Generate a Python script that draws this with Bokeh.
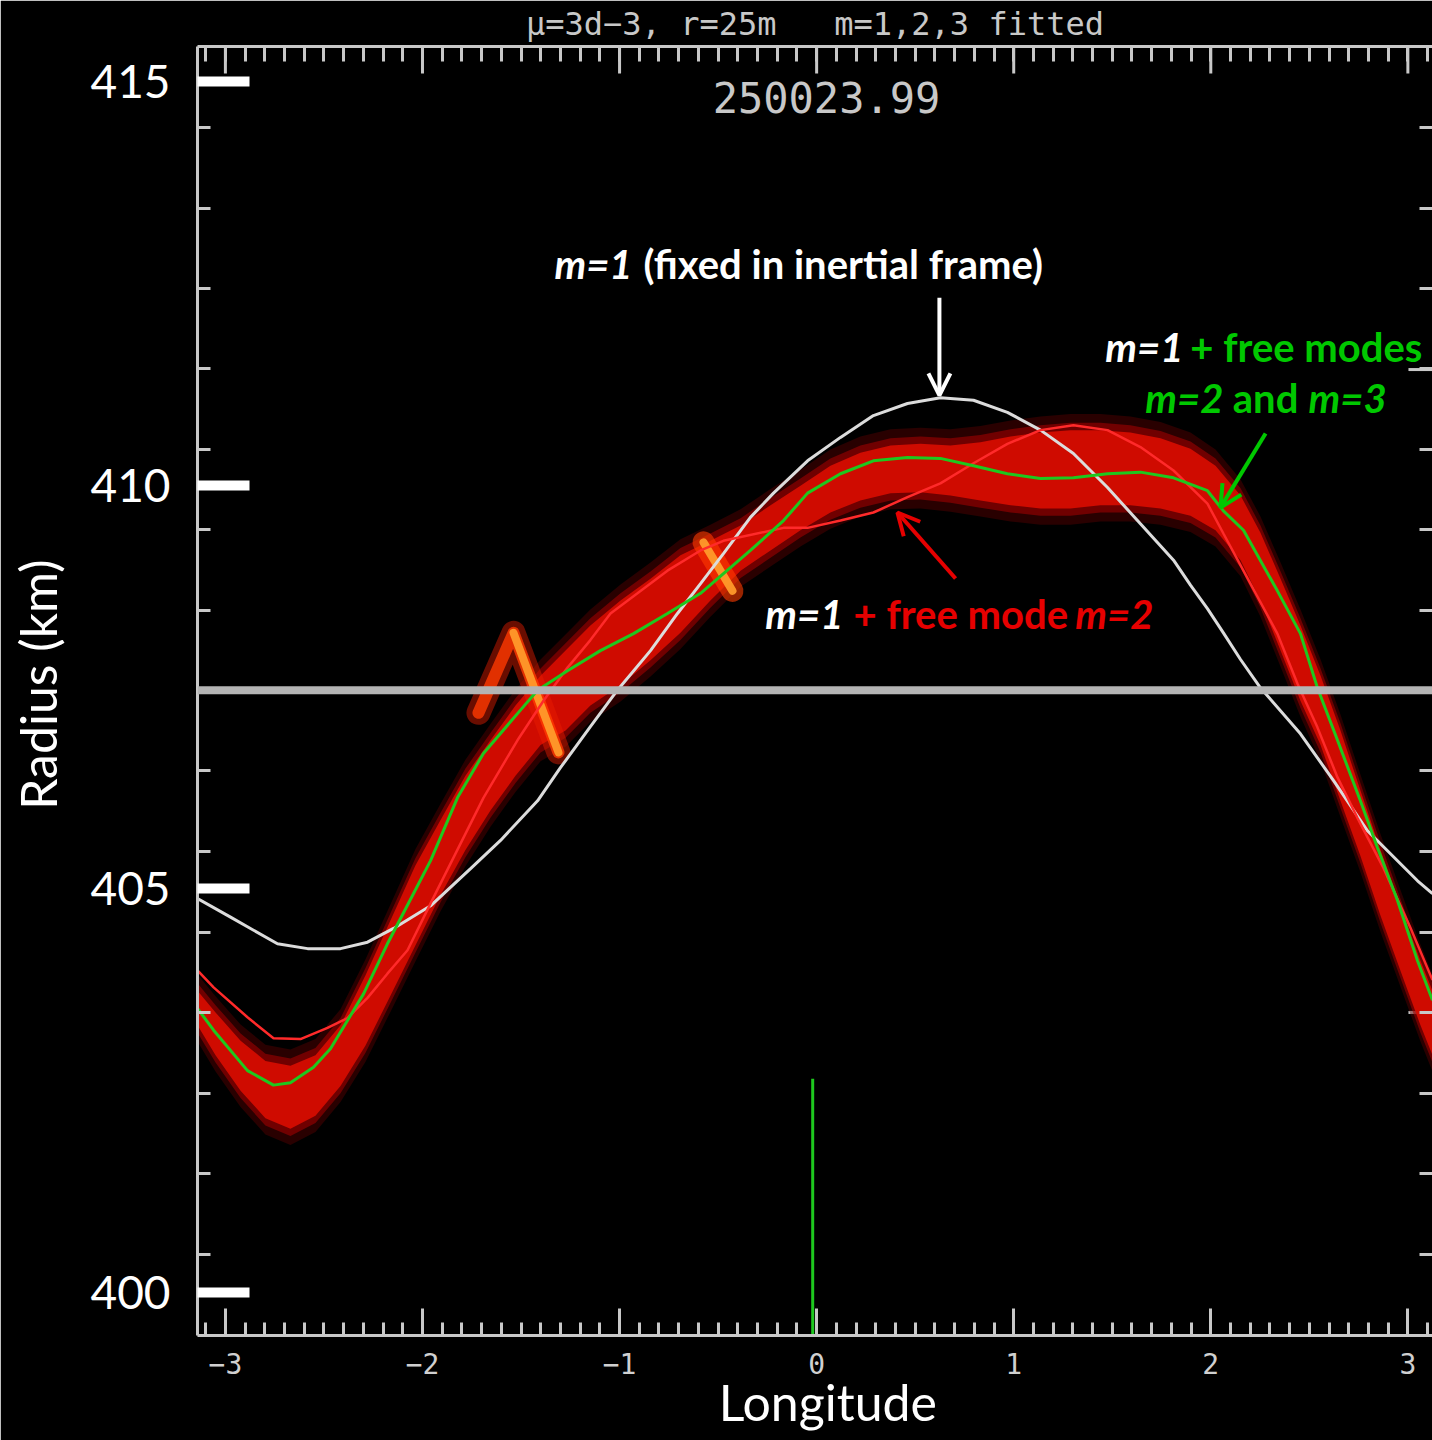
from bokeh.plotting import figure
from bokeh.models import (Range1d, LinearAxis, FixedTicker, SingleIntervalTicker,
                          Span, Label, Arrow, OpenHead)
from bokeh.embed import file_html
from bokeh.resources import INLINE

# ---------------- data ----------------
# m=1 (fixed in inertial frame) : white curve
lon_inertial = [-3.1416, -2.974, -2.736, -2.583, -2.416, -2.279, -2.147, -1.959, -1.756,
                -1.604, -1.416, -1.300, -1.148, -1.011, -0.843, -0.706, -0.589, -0.473,
                -0.336, -0.219, -0.046, 0.121, 0.288, 0.461, 0.628, 0.796, 0.968, 1.136,
                1.303, 1.476, 1.643, 1.811, 1.897, 1.983, 2.064, 2.151, 2.252, 2.455, 2.623,
                2.795, 3.049, 3.125]
r_inertial = [404.88, 404.65, 404.32, 404.26, 404.26, 404.34, 404.51, 404.79, 405.25,
              405.60, 406.09, 406.50, 407.01, 407.46, 407.95, 408.41, 408.78, 409.15,
              409.60, 409.90, 410.30, 410.59, 410.86, 411.01, 411.08, 411.05, 410.90, 410.68,
              410.39, 409.97, 409.52, 409.07, 408.76, 408.47, 408.17, 407.84, 407.49, 406.92,
              406.34, 405.72, 405.10, 404.94]

# m=1 + free modes m=2 and m=3 : green curve
lon_m123 = [-3.1416, -3.060, -2.888, -2.756, -2.670, -2.553, -2.467, -2.299, -2.178, -2.046,
            -1.959, -1.822, -1.690, -1.518, -1.416, -1.264, -1.097, -0.929, -0.757, -0.589,
            -0.336, -0.168, -0.046, 0.121, 0.288, 0.461, 0.628, 0.796, 0.968, 1.136, 1.303,
            1.476, 1.643, 1.811, 1.983, 2.064, 2.166, 2.338, 2.455, 2.541, 2.643, 2.759,
            2.846, 2.947, 3.049, 3.125]
r_m123 = [403.52, 403.25, 402.75, 402.57, 402.60, 402.79, 403.02, 403.70, 404.32, 404.94,
          405.35, 406.13, 406.68, 407.17, 407.46, 407.70, 407.95, 408.16, 408.41, 408.66,
          409.19, 409.56, 409.90, 410.14, 410.30, 410.34, 410.33, 410.24, 410.14, 410.08, 410.09,
          410.14, 410.16, 410.09, 409.93, 409.68, 409.44, 408.69, 408.16, 407.49, 406.84, 406.09,
          405.51, 404.86, 404.11, 403.62]

# m=1 + free mode m=2 : thin red curve
lon_m12 = [-3.1416, -3.060, -2.888, -2.756, -2.619, -2.482, -2.381, -2.279, -2.178, -2.076,
           -1.959, -1.690, -1.518, -1.386, -1.264, -1.148, -1.046, -0.909, -0.757, -0.589,
           -0.473, -0.168, -0.046, 0.121, 0.288, 0.461, 0.628, 0.796, 0.968, 1.136, 1.303,
           1.476, 1.643, 1.811, 1.983, 2.064, 2.201, 2.338, 2.440, 2.541, 2.643, 2.744,
           2.876, 3.013, 3.125]
r_m12 = [403.99, 403.78, 403.41, 403.15, 403.14, 403.28, 403.40, 403.65, 403.95, 404.24,
         404.82, 406.13, 406.84, 407.33, 407.74, 408.08, 408.41, 408.66, 408.94, 409.19,
         409.31, 409.47, 409.47, 409.56, 409.66, 409.85, 410.02, 410.27, 410.51, 410.68, 410.74,
         410.68, 410.47, 410.18, 409.77, 409.40, 408.78, 408.16, 407.54, 407.00, 406.38, 405.88,
         405.26, 404.52, 403.87]

# simulated particle cloud : red band (upper and lower edge)
lon_band = [-3.1416, -3.050, -2.923, -2.797, -2.670, -2.543, -2.416, -2.289, -2.162, -2.036,
            -1.909, -1.782, -1.655, -1.528, -1.401, -1.274, -1.148, -0.995, -0.843, -0.691,
            -0.539, -0.386, -0.234, -0.082, 0.070, 0.222, 0.375, 0.527, 0.679, 0.831, 0.984,
            1.136, 1.288, 1.440, 1.592, 1.745, 1.897, 2.024, 2.151, 2.252, 2.354, 2.455,
            2.557, 2.658, 2.759, 2.861, 2.962, 3.064, 3.125]
r_band_top = [403.74, 403.47, 403.12, 402.87, 402.81, 402.94, 403.31, 403.93, 404.61, 405.29,
              405.85, 406.40, 406.84, 407.27, 407.64, 407.95, 408.26, 408.57, 408.84, 409.13,
              409.31, 409.50, 409.75, 409.99, 410.24, 410.40, 410.49, 410.51, 410.49, 410.53, 410.60,
              410.65, 410.68, 410.68, 410.65, 410.58, 410.45, 410.24, 409.87, 409.41, 408.84, 408.26,
              407.64, 406.96, 406.22, 405.48, 404.79, 404.11, 403.74]
r_band_bottom = [403.31, 402.94, 402.50, 402.16, 402.03, 402.19, 402.56, 403.06, 403.68, 404.30,
                 404.92, 405.48, 405.97, 406.40, 406.78, 406.96, 407.27, 407.52, 407.83, 408.17,
                 408.57, 408.94, 409.19, 409.44, 409.66, 409.81, 409.90, 409.91, 409.87, 409.81, 409.75,
                 409.71, 409.71, 409.75, 409.75, 409.71, 409.62, 409.44, 409.07, 408.57, 407.95, 407.33,
                 406.78, 406.09, 405.41, 404.67, 403.99, 403.31, 402.94]

# bright folds in the cloud
lon_fold1 = [-1.716, -1.538, -1.310]
r_fold1 = [407.18, 408.17, 406.69]
lon_fold2 = [-0.574, -0.427]
r_fold2 = [409.29, 408.69]

reference_radius = 407.46
marker_lon = -0.02
marker_r_top = 402.65

x_tick_values = [-3, -2, -1, 0, 1, 2, 3]
x_tick_labels = ["\u22123", "\u22122", "\u22121", "0", "1", "2", "3"]
y_tick_values = [400, 405, 410, 415]
y_tick_labels = ["400", "405", "410", "415"]
frame_minor_ticks = [400.47, 401.47, 402.47, 403.47, 404.46, 405.46, 406.46, 407.46,
                     408.45, 409.45, 410.44, 411.44, 412.43, 413.43, 414.43]
frame_major_ticks = [403.47, 411.43]
title_text = "\u03bc=3d\u22123, r=25m\u00a0\u00a0\u00a0m=1,2,3 fitted"
time_stamp = "250023.99"
x_title = "\u00a0\u00a0Longitude"
y_title = "\u00a0Radius (km)"

# ---------------- figure ----------------
X0, X1 = -3.1416, 3.125
Y0, Y1 = 399.47, 415.43
FRAME = "#c8c8c8"
GREEN = "#1ec81e"
RED_TXT = "#e60000"
GREEN_TXT = "#00c800"
SLIDE_FONT = "Lato"
PLOT_FONT = "DejaVu Sans Mono"
ANN_SIZE = "40px"

p = figure(width=1432, height=1440, x_range=Range1d(X0, X1), y_range=Range1d(Y0, Y1),
           output_backend="svg", toolbar_location=None,
           x_axis_location=None, y_axis_location=None,
           background_fill_color="black", border_fill_color="black",
           outline_line_color=None,
           min_border_left=197, min_border_right=0, min_border_top=46, min_border_bottom=105)
p.xgrid.visible = False
p.ygrid.visible = False

def style_frame_axis(ax):
    ax.axis_line_color = FRAME
    ax.axis_line_width = 3
    ax.major_tick_out = 0
    ax.minor_tick_out = 0
    ax.major_tick_line_color = FRAME
    ax.minor_tick_line_color = FRAME
    ax.major_tick_line_width = 3
    ax.minor_tick_line_width = 3

# bottom axis
xb = LinearAxis(ticker=SingleIntervalTicker(interval=1, num_minor_ticks=10),
                major_label_overrides=dict(zip(x_tick_values, x_tick_labels)),
                axis_label=x_title)
style_frame_axis(xb)
xb.major_tick_in = 27
xb.minor_tick_in = 13
xb.major_label_text_font = PLOT_FONT
xb.major_label_text_font_size = "28px"
xb.major_label_text_color = "#d0d0d0"
xb.major_label_standoff = 17
xb.axis_label_text_font = SLIDE_FONT
xb.axis_label_text_font_style = "normal"
xb.axis_label_text_font_size = "50px"
xb.axis_label_text_color = "white"
xb.axis_label_standoff = -5
p.add_layout(xb, "below")

# top axis (tick marks only, plot title as its label)
top_minor = [round(-3.1 + 0.1 * i, 1) for i in range(63)]
xt = LinearAxis(ticker=FixedTicker(ticks=[], minor_ticks=top_minor), axis_label=title_text)
style_frame_axis(xt)
xt.minor_tick_in = 15
xt.axis_label_text_font = PLOT_FONT
xt.axis_label_text_font_style = "normal"
xt.axis_label_text_font_size = "32px"
xt.axis_label_text_color = "#c8c8c8"
xt.axis_label_standoff = 4
p.add_layout(xt, "above")
p.segment(x0=x_tick_values, y0=[Y1] * len(x_tick_values),
          x1=x_tick_values, y1=[Y1 - 0.334] * len(x_tick_values),
          line_color=FRAME, line_width=3)

# left axis: labelled white bars + original inner ticks
yl = LinearAxis(ticker=FixedTicker(ticks=y_tick_values, minor_ticks=frame_minor_ticks),
                major_label_overrides=dict(zip(y_tick_values, y_tick_labels)),
                axis_label=y_title)
style_frame_axis(yl)
yl.major_tick_in = 52
yl.major_tick_line_color = "white"
yl.major_tick_line_width = 10
yl.minor_tick_in = 13
yl.major_label_text_font = SLIDE_FONT
yl.major_label_text_font_size = "46px"
yl.major_label_text_color = "white"
yl.major_label_standoff = 27
yl.axis_label_text_font = SLIDE_FONT
yl.axis_label_text_font_style = "normal"
yl.axis_label_text_font_size = "50px"
yl.axis_label_text_color = "white"
yl.axis_label_standoff = 19
p.add_layout(yl, "left")

# right axis (tick marks only; the frame line itself lies just outside the picture)
yr = LinearAxis(ticker=FixedTicker(ticks=[], minor_ticks=frame_minor_ticks))
style_frame_axis(yr)
yr.axis_line_color = None
yr.minor_tick_in = 13
p.add_layout(yr, "right")
p.segment(x0=[X1] * len(frame_major_ticks), y0=frame_major_ticks,
          x1=[X1 - 0.122] * len(frame_major_ticks), y1=frame_major_ticks,
          line_color=FRAME, line_width=3)

# ---------------- glyphs ----------------
# particle cloud (soft halo + core)
for pad, col, alpha in [(0.20, "#5a0000", 0.45), (0.09, "#a00000", 0.6), (0.0, "#dc0c00", 0.88)]:
    p.varea(x=lon_band, y1=[v - pad for v in r_band_bottom], y2=[v + pad for v in r_band_top],
            fill_color=col, fill_alpha=alpha)
# glowing folds
p.line(lon_fold1, r_fold1, line_color="#e81c00", line_width=24, line_alpha=0.45,
       line_join="round", line_cap="round")
p.line(lon_fold1, r_fold1, line_color="#ff3a00", line_width=12, line_alpha=0.8,
       line_join="round", line_cap="round")
p.line(lon_fold2, r_fold2, line_color="#ff3c00", line_width=22, line_alpha=0.6,
       line_join="round", line_cap="round")
p.multi_line(xs=[lon_fold1[1:], lon_fold2], ys=[r_fold1[1:], r_fold2], line_color="#ff9a2a",
             line_width=8, line_alpha=0.95, line_join="round", line_cap="round")

# model curves
p.line(lon_inertial, r_inertial, line_color="#dcdcdc", line_width=3)
p.line(lon_m12, r_m12, line_color="#ff2a2a", line_width=2.5)
p.line(lon_m123, r_m123, line_color=GREEN, line_width=3)

# green marker at longitude ~0
p.segment(x0=[marker_lon], y0=[marker_r_top], x1=[marker_lon], y1=[Y0],
          line_color=GREEN, line_width=3)

# reference radius line
p.add_layout(Span(location=reference_radius, dimension="width",
                  line_color="#b4b4b4", line_width=8))

# time stamp
p.add_layout(Label(x=0.05, y=414.80, text=time_stamp, text_font=PLOT_FONT,
                   text_font_size="42px", text_color="#c8c8c8",
                   text_align="center", text_baseline="middle"))

def lab(x, y, text, color, style, align):
    p.add_layout(Label(x=x, y=y, text=text, text_font=SLIDE_FONT, text_font_style=style,
                       text_font_size=ANN_SIZE, text_color=color,
                       text_align=align, text_baseline="middle"))

# annotation 1 : white
lab(-0.934, 412.74, "m=1", "white", "bold italic", "right")
lab(-0.879, 412.74, "(fixed in inertial frame)", "white", "bold", "left")
p.add_layout(Arrow(end=OpenHead(size=22, line_color="white", line_width=4),
                   x_start=0.623, y_start=412.32, x_end=0.623, y_end=411.11,
                   line_color="white", line_width=4))

# annotation 2 : green
lab(3.074, 411.715, "+ free modes", GREEN_TXT, "bold", "right")
lab(1.861, 411.715, "m=1", "white", "bold italic", "right")
lab(2.064, 411.084, "m=2", GREEN_TXT, "bold italic", "right")
lab(2.278, 411.084, "and", GREEN_TXT, "bold", "center")
lab(2.496, 411.084, "m=3", GREEN_TXT, "bold italic", "left")
p.add_layout(Arrow(end=OpenHead(size=22, line_color=GREEN_TXT, line_width=4),
                   x_start=2.278, y_start=410.638, x_end=2.049, y_end=409.72,
                   line_color=GREEN_TXT, line_width=4))

# annotation 3 : red
lab(0.136, 408.409, "m=1", "white", "bold italic", "right")
lab(0.187, 408.409, "+ free mode", RED_TXT, "bold", "left")
lab(1.709, 408.409, "m=2", RED_TXT, "bold italic", "right")
p.add_layout(Arrow(end=OpenHead(size=22, line_color=RED_TXT, line_width=4),
                   x_start=0.705, y_start=408.843, x_end=0.410, y_end=409.66,
                   line_color=RED_TXT, line_width=4))

open("out.html", "w").write(file_html(p, INLINE))
